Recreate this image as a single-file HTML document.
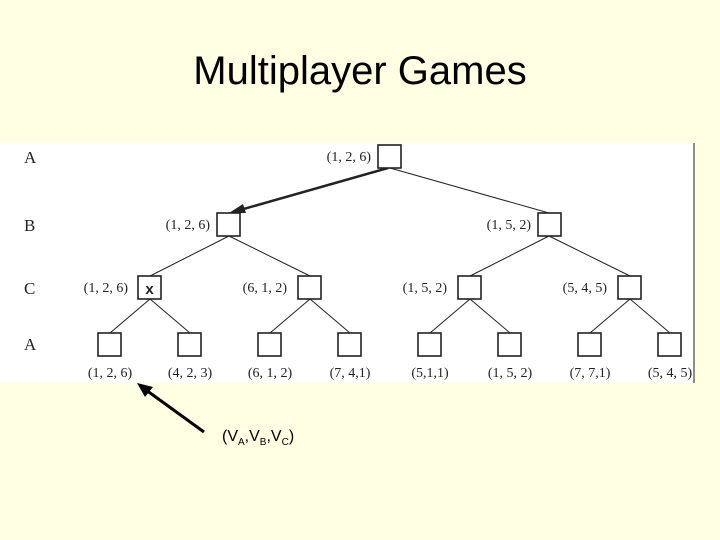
<!DOCTYPE html>
<html><head><meta charset="utf-8"><style>
html,body{margin:0;padding:0;background:#ffffe3;}
body{width:720px;height:540px;position:relative;overflow:hidden;}
svg{position:absolute;left:0;top:0;}
</style></head><body>
<svg width="720" height="540" viewBox="0 0 720 540" xmlns="http://www.w3.org/2000/svg">
<rect x="0" y="0" width="720" height="540" fill="#ffffe3"/>
<text x="360" y="84" text-anchor="middle" font-family="Liberation Sans, sans-serif" font-size="40" fill="#000">Multiplayer Games</text>
<rect x="0" y="143" width="694" height="240" fill="#fff"/>
<line x1="694" y1="143" x2="694" y2="383" stroke="#444" stroke-width="1.2"/>
<g font-family="Liberation Serif, serif" font-size="17" fill="#222">
<text x="24" y="163">A</text><text x="24" y="231">B</text><text x="24" y="294">C</text><text x="24" y="350">A</text>
</g>
<g stroke="#222" stroke-width="1" fill="none">
<line x1="390" y1="168" x2="549" y2="213"/>
<line x1="229" y1="236" x2="150" y2="276"/><line x1="229" y1="236" x2="310" y2="276"/>
<line x1="549" y1="236" x2="470" y2="276"/><line x1="549" y1="236" x2="630" y2="276"/>
<line x1="150" y1="299" x2="110" y2="333"/><line x1="150" y1="299" x2="190" y2="333"/>
<line x1="310" y1="299" x2="270" y2="333"/><line x1="310" y1="299" x2="350" y2="333"/>
<line x1="470" y1="299" x2="430" y2="333"/><line x1="470" y1="299" x2="510" y2="333"/>
<line x1="630" y1="299" x2="590" y2="333"/><line x1="630" y1="299" x2="670" y2="333"/>
</g>
<line x1="388" y1="168" x2="240" y2="210" stroke="#222" stroke-width="2.5"/>
<polygon points="229,213 243,204 246,213" fill="#222"/>
<g stroke="#222" stroke-width="1.6" fill="#fff">
<rect x="378" y="145" width="23" height="23"/>
<rect x="217" y="213" width="23" height="23"/><rect x="538" y="213" width="23" height="23"/>
<rect x="138" y="276" width="23" height="23"/><rect x="298" y="276" width="23" height="23"/>
<rect x="458" y="276" width="23" height="23"/><rect x="618" y="276" width="23" height="23"/>
<rect x="98" y="333" width="23" height="23"/><rect x="178" y="333" width="23" height="23"/>
<rect x="258" y="333" width="23" height="23"/><rect x="338" y="333" width="23" height="23"/>
<rect x="418" y="333" width="23" height="23"/><rect x="498" y="333" width="23" height="23"/>
<rect x="578" y="333" width="23" height="23"/><rect x="658" y="333" width="23" height="23"/>
</g>
<text x="149.5" y="294" text-anchor="middle" font-family="Liberation Sans, sans-serif" font-weight="bold" font-size="15" fill="#222">x</text>
<g font-family="Liberation Serif, serif" font-size="14" fill="#222">
<text x="371" y="161" text-anchor="end">(1, 2, 6)</text>
<text x="210" y="229" text-anchor="end">(1, 2, 6)</text>
<text x="531" y="229" text-anchor="end">(1, 5, 2)</text>
<text x="128" y="292" text-anchor="end">(1, 2, 6)</text>
<text x="287" y="292" text-anchor="end">(6, 1, 2)</text>
<text x="447" y="292" text-anchor="end">(1, 5, 2)</text>
<text x="607" y="292" text-anchor="end">(5, 4, 5)</text>
<g text-anchor="middle">
<text x="110" y="377">(1, 2, 6)</text><text x="190" y="377">(4, 2, 3)</text>
<text x="270" y="377">(6, 1, 2)</text><text x="350" y="377">(7, 4,1)</text>
<text x="430" y="377">(5,1,1)</text><text x="510" y="377">(1, 5, 2)</text>
<text x="590" y="377">(7, 7,1)</text><text x="670" y="377">(5, 4, 5)</text>
</g></g>
<line x1="204" y1="432" x2="146" y2="390" stroke="#000" stroke-width="3"/>
<polygon points="137,383 153,387 145,397" fill="#000"/>
<text x="222" y="441" font-family="Liberation Sans, sans-serif" font-size="16" fill="#000">(V<tspan font-size="10" dy="4">A</tspan><tspan dy="-4">,V</tspan><tspan font-size="10" dy="4">B</tspan><tspan dy="-4">,V</tspan><tspan font-size="10" dy="4">C</tspan><tspan dy="-4">)</tspan></text>
</svg>
</body></html>
